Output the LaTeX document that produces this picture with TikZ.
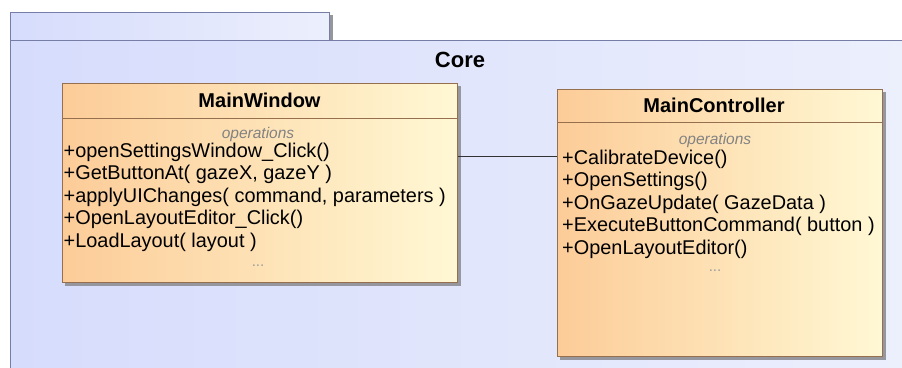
\documentclass[tikz,border=0pt]{standalone}
\usepackage{fontspec}
\setmainfont{Liberation Sans}
\definecolor{pkgleft}{RGB}{214,220,252}
\definecolor{pkgright}{RGB}{236,239,252}
\definecolor{pkgline}{RGB}{118,126,168}
\definecolor{clsleft}{RGB}{252,204,152}
\definecolor{clsright}{RGB}{255,248,212}
\definecolor{clsline}{RGB}{150,112,78}
\definecolor{optext}{RGB}{130,130,130}
\definecolor{shadowc}{RGB}{150,150,158}
\tikzset{
  pkg/.style={draw=pkgline, line width=0.9pt, left color=pkgleft, right color=pkgright,
    anchor=north west, inner sep=0pt},
  cls/.style={draw=clsline, line width=1pt, shading angle=60, left color=clsleft, right color=clsright,
    anchor=north west, inner sep=0pt},
  shadowbox/.style={fill=shadowc},
  sep/.style={draw=clsline, line width=1pt},
  title/.style={font=\bfseries\fontsize{20}{24}\selectfont, inner sep=0pt},
  op/.style={font=\fontsize{19.9}{23}\selectfont, anchor=base west, inner sep=0pt},
  opshead/.style={font=\itshape\fontsize{15.5}{18}\selectfont, text=optext, anchor=base, inner sep=0pt},
  more/.style={font=\fontsize{15}{18}\selectfont, text=optext!80, inner sep=0pt},
  link/.style={draw=black!80, line width=0.9pt},
}
\begin{document}
\begin{tikzpicture}[x=1pt, y=-1pt]
\useasboundingbox (0,0) rectangle (902,367);
\clip (0,0) rectangle (902,367);

% package "Core": tab (with its shadow) and body
\fill[shadowbox] (329,15) rectangle (332.5,40);
\node[pkg, minimum width=319, minimum height=28] (tab) at (10,12) {};
\node[pkg, minimum width=900, minimum height=340] (core) at (10,40) {};
\node[title, font=\bfseries\fontsize{22}{26}\selectfont] (corelbl) at (460,60) {Core};

% class shadows
\fill[shadowbox] (65,86) rectangle (460.5,285.5);
\fill[shadowbox] (560,92) rectangle (885.5,359.5);

% class MainWindow
\node[cls, minimum width=395, minimum height=199] (mw) at (62,83) {};
\draw[sep] (62,118) -- (457,118);
\node[title] (mwname) at (259.5,100) {MainWindow};
\node[opshead] (mwops) at (258,138) {operations};
\node[op] (mw1) at (63.5,157) {+openSettingsWindow\_Click()};
\node[op] (mw2) at (63.5,179.6) {+GetButtonAt( gazeX, gazeY )};
\node[op] (mw3) at (63.5,202.2) {+applyUIChanges( command, parameters )};
\node[op] (mw4) at (63.5,224.8) {+OpenLayoutEditor\_Click()};
\node[op] (mw5) at (63.5,247.4) {+LoadLayout( layout )};
\node[more] (mwmore) at (258,266) {...};

% class MainController
\node[cls, minimum width=325, minimum height=267] (mc) at (557,89) {};
\draw[sep] (557,122) -- (882,122);
\node[title] (mcname) at (714,105) {MainController};
\node[opshead] (mcops) at (715,144) {operations};
\node[op] (mc1) at (562,164) {+CalibrateDevice()};
\node[op] (mc2) at (562,186.5) {+OpenSettings()};
\node[op] (mc3) at (562,209) {+OnGazeUpdate( GazeData )};
\node[op] (mc4) at (562,231.5) {+ExecuteButtonCommand( button )};
\node[op] (mc5) at (562,254) {+OpenLayoutEditor()};
\node[more] (mcmore) at (715,271) {...};

% association
\coordinate (lk) at (0,156);
\draw[link] (mw.east |- lk) -- (mc.west |- lk);
\end{tikzpicture}
\end{document}
